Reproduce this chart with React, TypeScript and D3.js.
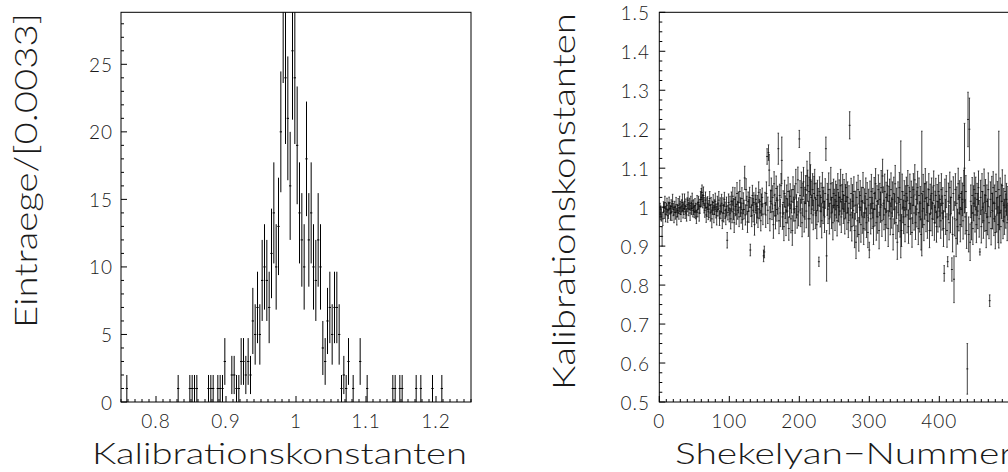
import React from 'react';
import * as d3 from 'd3';

// ---------- Left panel: histogram of calibration constants ----------
const histRange = [0.75, 1.25];
const histYMax = 28.85;
// counts per bin (150 bins of width 0.0033)
const histCounts = [
  0, 0, 1, 0, 0, 0, 0, 0, 0, 0,
  0, 0, 0, 0, 0, 0, 0, 0, 0, 0,
  0, 0, 0, 0, 1, 0, 0, 0, 0, 1,
  1, 1, 1, 0, 0, 0, 0, 1, 1, 1,
  0, 1, 1, 1, 3, 0, 0, 2, 2, 1,
  1, 3, 3, 2, 3, 2, 6, 5, 7, 5,
  9, 10, 9, 7, 11, 14, 10, 13, 20, 29,
  24, 21, 16, 26, 24, 19, 14, 12, 10, 18,
  12, 14, 10, 9, 12, 10, 4, 3, 6, 7,
  5, 7, 7, 5, 1, 2, 1, 3, 0, 1,
  0, 0, 3, 0, 0, 1, 0, 0, 0, 0,
  0, 0, 0, 0, 0, 0, 1, 1, 0, 1,
  1, 0, 0, 0, 0, 0, 1, 0, 1, 0,
  0, 0, 0, 1, 0, 0, 0, 1, 0, 0,
  0, 0, 0, 0, 0, 0, 0, 0, 0, 0,
];
const histXTicks = [0.8, 0.9, 1, 1.1, 1.2];
const histYTicks = [0, 5, 10, 15, 20, 25];

// ---------- Right panel: constants per Shekelyan number ----------
// deviations from 1 in units of 0.001, Shekelyan numbers 1..498
const dev001 = [-5, -15, -20, -75, -30, 0, -10, 12, -18, -5, 5, -22, -8, 10, -3, -15, 2, -12, 15, -6, -20, 0, -14, 6, -25, -9, 4, -16, 8, -2, -18, 3, 12, -10, -4, 14, -12, 2, -20, 6, 18, -5, 8, -15, 10, -3, 16, -8, 0, -12];
const dev051 = [4, -10, -25, 8, -6, 12, -15, 2, 20, 25, 38, 15, 30, 5, -8, 18, -20, 0, 10, -12, -5, 22, -15, 6, -30, -2, 12, -18, 0, 15, -10, -22, 8, -6, 18, -28, 3, -12, 10, -35, 5, -16, 20, -8, -25, 2, -85, -14, 12, -20];
const dev101 = [6, -30, 15, -12, 28, -5, -40, 20, 2, -18, 35, -8, 12, -25, 40, 0, -15, 22, -32, 10, -6, 75, -20, 45, 5, -38, 14, -10, 25, -110, 0, -22, 30, -8, 12, -45, 8, 20, -15, 2, -28, 38, -5, 15, -35, 6, 25, -18, -125, -115];
const dev151 = [10, -20, 35, 130, -8, 140, 95, -30, 15, 42, -12, 25, -45, 60, 5, -22, 48, -6, 18, 150, -35, 30, -15, 55, 120, -25, 12, -50, 35, 0, -40, 22, -10, 40, -55, 8, 28, -30, 15, -60, 45, -5, 20, -35, 60, 2, -20, 70, -12, 175];
const dev201 = [30, -15, 50, -40, 20, 65, -25, 10, 45, -10, 80, 55, -30, 40, -30, 70, 25, -5, 45, -20, 35, 60, -15, 20, -45, 30, 5, -140, 40, -10, 25, -35, 50, 0, 15, -25, 35, 150, -125, 20, -5, 45, -30, 10, 60, -15, 25, -40, 35, 5];
const dev251 = [-20, 30, 15, -35, 45, 0, 25, -10, 55, -25, 20, 40, -5, 30, -30, 15, 50, -15, 25, -40, 10, 210, -20, 35, -50, 15, -8, 40, -60, 5, -90, 25, -35, 45, -70, 0, 30, -45, 15, -25, 50, -55, 10, -15, 35, -40, 20, -65, 5, -110];
const dev301 = [25, -30, 40, -15, 10, -50, 35, -5, 60, -40, 15, -25, 45, -60, 20, 0, 50, -35, 80, 10, -20, 40, -45, 25, -10, 55, -55, 15, 30, -30, 45, -15, 20, -70, 35, -5, 60, -40, 10, -90, 25, -20, 50, -35, 20, -60, 40, 0, -25, 30];
const dev351 = [-45, 15, 35, -20, 55, -50, 10, 40, -30, 25, -65, 5, 45, -15, 70, -40, 20, -5, 50, -55, 30, -25, 10, -70, 35, -10, 40, -45, 15, 60, -20, 25, -35, 5, 45, -60, 20, -15, 35, -30, 10, 55, -40, 0, 30, -50, 15, -25, 40, -10];
const dev401 = [20, -35, 45, -15, 10, -55, -170, 30, -25, 40, -60, -140, 15, -40, 50, -20, 25, -160, -70, 35, -185, -30, 45, -80, 10, -50, 60, -15, 25, -45, 35, -5, 20, -35, 55, 100, -25, 40, -60, -415, 225, -70, 200, -90, 15, -40, 30, -55, 10, 45];
const dev451 = [-20, 35, -45, 20, -10, 50, -30, -115, 25, -50, 40, 0, -35, 55, -15, 30, -60, 15, -25, 45, -40, -240, 20, -55, 35, -10, 50, -30, 10, -65, 40, -20, 25, -45, 45, -15, 30, -50, 15, 55, -35, 5, -25, 40, -10, 20, -40, 10];

// errors in units of 0.001
const err001 = [15, 18, 16, 25, 17, 14, 19, 16, 20, 15, 18, 17, 21, 16, 15, 19, 17, 22, 18, 16, 20, 15, 17, 19, 21, 16, 18, 15, 20, 17, 19, 16, 22, 18, 15, 20, 17, 19, 16, 18, 21, 17, 15, 19, 18, 16, 20, 17, 19, 15];
const err051 = [18, 20, 17, 22, 19, 16, 21, 18, 20, 23, 19, 17, 22, 20, 18, 21, 19, 24, 17, 20, 22, 18, 21, 19, 23, 17, 20, 22, 19, 21, 18, 24, 20, 17, 22, 19, 21, 18, 23, 20, 19, 22, 18, 21, 20, 24, 20, 19, 22, 18];
const err101 = [22, 26, 24, 28, 23, 27, 25, 30, 24, 26, 28, 23, 27, 25, 29, 24, 26, 28, 25, 27, 24, 30, 26, 28, 23, 27, 25, 29, 26, 15, 24, 28, 26, 30, 25, 27, 23, 29, 26, 28, 24, 27, 25, 30, 26, 28, 24, 27, 15, 15];
const err151 = [28, 32, 30, 20, 34, 20, 40, 31, 29, 33, 20, 30, 35, 31, 28, 34, 32, 30, 36, 40, 33, 29, 35, 31, 60, 32, 30, 36, 34, 29, 33, 35, 31, 37, 30, 34, 32, 36, 30, 38, 33, 31, 35, 32, 37, 30, 34, 33, 36, 22];
const err201 = [38, 35, 40, 36, 42, 37, 39, 41, 36, 43, 38, 40, 45, 37, 170, 39, 42, 36, 41, 38, 44, 37, 40, 42, 36, 39, 43, 12, 38, 41, 37, 44, 39, 42, 36, 40, 38, 30, 65, 41, 37, 43, 39, 36, 42, 40, 38, 44, 37, 41];
const err251 = [40, 37, 43, 39, 41, 38, 45, 36, 42, 40, 38, 44, 37, 41, 39, 43, 36, 42, 40, 38, 45, 35, 41, 39, 37, 43, 40, 38, 44, 36, 42, 39, 41, 37, 43, 40, 38, 45, 36, 42, 39, 41, 37, 44, 40, 38, 43, 39, 41, 20];
const err301 = [42, 39, 44, 40, 38, 46, 41, 43, 39, 45, 40, 42, 38, 47, 41, 39, 44, 40, 43, 42, 38, 45, 41, 39, 44, 40, 46, 38, 42, 41, 43, 39, 45, 40, 42, 38, 47, 41, 39, 44, 40, 43, 39, 42, 150, 41, 45, 40, 43, 38];
const err351 = [44, 40, 42, 46, 39, 43, 41, 45, 40, 42, 38, 47, 41, 44, 39, 43, 40, 46, 42, 41, 45, 39, 43, 40, 160, 42, 44, 41, 46, 39, 43, 40, 45, 42, 41, 44, 39, 46, 40, 43, 42, 38, 45, 41, 44, 40, 43, 39, 42, 41];
const err401 = [43, 45, 41, 44, 40, 46, 20, 42, 45, 41, 43, 13, 47, 44, 40, 46, 42, 30, 45, 43, 60, 44, 41, 47, 42, 45, 40, 46, 43, 44, 41, 45, 42, 47, 40, 115, 44, 41, 46, 65, 70, 45, 80, 47, 42, 44, 46, 41, 45, 43];
const err451 = [44, 42, 46, 41, 45, 43, 47, 8, 44, 42, 46, 40, 45, 43, 47, 41, 44, 42, 46, 43, 41, 15, 45, 42, 44, 46, 41, 43, 47, 42, 45, 44, 41, 46, 150, 43, 45, 42, 44, 41, 46, 43, 45, 42, 44, 41, 46, 43];

const shekRange = [0, 500];
const shekYRange = [0.5, 1.5];
const shekXTicks = [0, 100, 200, 300, 400];
const shekYTicks = [0.5, 0.6, 0.7, 0.8, 0.9, 1, 1.1, 1.2, 1.3, 1.4, 1.5];

const FONT = "Lato, 'Open Sans', 'DejaVu Sans', sans-serif";
const TXT = '#1a1a1a';

export default function App() {
  const top = 12.3;
  const bottom = 402;

  const xh = d3.scaleLinear().domain(histRange).range([121, 471]);
  const yh = d3.scaleLinear().domain([0, histYMax]).range([bottom, top]);
  const xs = d3.scaleLinear().domain(shekRange).range([659.3, 1009.3]);
  const ys = d3.scaleLinear().domain(shekYRange).range([bottom, top]);

  const nBins = histCounts.length;
  const bw = (histRange[1] - histRange[0]) / nBins;
  const bins = histCounts.map((n, i) => ({ c: histRange[0] + (i + 0.5) * bw, n }));

  const devs = [...dev001, ...dev051, ...dev101, ...dev151, ...dev201, ...dev251, ...dev301, ...dev351, ...dev401, ...dev451];
  const errs = [...err001, ...err051, ...err101, ...err151, ...err201, ...err251, ...err301, ...err351, ...err401, ...err451];
  const pts = devs.map((d, i) => ({ x: i + 1, v: 1 + d / 1000, e: (errs[i] ?? 40) / 1000 }));

  const hMinorX = d3.range(75, 126).map((k) => k / 100);
  const hMinorY = d3.range(0, 29);
  const sMinorX = d3.range(0, 501, 10);
  const sMinorY = d3.range(0, 41).map((k) => 0.5 + k * 0.025);

  const hbw = xh(histRange[0] + bw) - xh(histRange[0]);

  return (
    <svg width={1008} height={472} style={{ position: 'absolute', left: 0, top: 0, background: '#fff' }}>
      <defs>
        <clipPath id="clipL"><rect x={121} y={top} width={350} height={bottom - top} /></clipPath>
        <clipPath id="clipR"><rect x={659.3} y={top} width={350} height={bottom - top} /></clipPath>
      </defs>
      <rect x={0} y={0} width={1008} height={472} fill="#fff" />

      {/* ---------- Left panel ---------- */}
      <g clipPath="url(#clipL)" stroke="#000" strokeWidth={1} fill="none">
        {bins.filter((b) => b.n > 0).map((b, i) => {
          const x = xh(b.c);
          const s = Math.sqrt(b.n);
          return (
            <g key={i}>
              <line x1={x} x2={x} y1={yh(b.n - s)} y2={yh(b.n + s)} />
              <line x1={x - hbw / 2} x2={x + hbw / 2} y1={yh(b.n)} y2={yh(b.n)} />
            </g>
          );
        })}
      </g>
      <g stroke="#000" strokeWidth={1} fill="none">
        <rect x={121} y={top} width={350} height={bottom - top} />
        {hMinorY.map((v) => (
          <line key={'hy' + v} x1={121} x2={121 + (v % 5 === 0 ? 6 : 3)} y1={yh(v)} y2={yh(v)} />
        ))}
        {hMinorX.map((v, i) => {
          const major = Math.abs(v * 10 - Math.round(v * 10)) < 1e-6;
          return <line key={'hx' + i} x1={xh(v)} x2={xh(v)} y1={bottom} y2={bottom - (major ? 6 : 3)} />;
        })}
      </g>
      <g fill={TXT} fontFamily={FONT} fontWeight={300} fontSize={19}>
        {histYTicks.map((v) => (
          <text key={'hyl' + v} x={113} y={yh(v)} textAnchor="end" dominantBaseline="central" letterSpacing={1}>{v}</text>
        ))}
        {histXTicks.map((v) => (
          <text key={'hxl' + v} x={xh(v)} y={428} textAnchor="middle" letterSpacing={1}>{String(v)}</text>
        ))}
        <text x={467} y={464} textAnchor="end" fontSize={29} textLength={375} lengthAdjust="spacingAndGlyphs">Kalibrationskonstanten</text>
        <text transform="translate(37,13) rotate(-90)" textAnchor="end" fontSize={32} textLength={315} lengthAdjust="spacingAndGlyphs">Eintraege/[0.0033]</text>
      </g>

      {/* ---------- Right panel ---------- */}
      <g clipPath="url(#clipR)" stroke="#000" strokeWidth={0.75} fill="none">
        {pts.map((p) => {
          const x = xs(p.x);
          return (
            <g key={p.x}>
              <line x1={x} x2={x} y1={ys(p.v - p.e)} y2={ys(p.v + p.e)} />
              <line x1={x - 1} x2={x + 1} y1={ys(p.v)} y2={ys(p.v)} />
              <line x1={x - 0.8} x2={x + 0.8} y1={ys(p.v - p.e)} y2={ys(p.v - p.e)} strokeWidth={0.6} />
              <line x1={x - 0.8} x2={x + 0.8} y1={ys(p.v + p.e)} y2={ys(p.v + p.e)} strokeWidth={0.6} />
            </g>
          );
        })}
      </g>
      <g stroke="#000" strokeWidth={1} fill="none">
        <rect x={659.3} y={top} width={350} height={bottom - top} />
        {sMinorY.map((v, i) => (
          <line key={'sy' + i} x1={659.3} x2={659.3 + (i % 4 === 0 ? 6 : 3)} y1={ys(v)} y2={ys(v)} />
        ))}
        {sMinorX.map((v) => (
          <line key={'sx' + v} x1={xs(v)} x2={xs(v)} y1={bottom} y2={bottom - (v % 100 === 0 ? 6 : 3)} />
        ))}
      </g>
      <g fill={TXT} fontFamily={FONT} fontWeight={300} fontSize={19}>
        {shekYTicks.map((v) => (
          <text key={'syl' + v} x={650} y={ys(v)} textAnchor="end" dominantBaseline="central" letterSpacing={1}>{String(v)}</text>
        ))}
        {shekXTicks.map((v) => (
          <text key={'sxl' + v} x={xs(v)} y={428} textAnchor="middle" letterSpacing={1}>{String(v)}</text>
        ))}
        <text x={675} y={464} fontSize={29} textLength={338} lengthAdjust="spacingAndGlyphs">Shekelyan−Nummer</text>
        <text transform="translate(575,13) rotate(-90)" textAnchor="end" fontSize={31} textLength={377} lengthAdjust="spacingAndGlyphs">Kalibrationskonstanten</text>
      </g>
    </svg>
  );
}
